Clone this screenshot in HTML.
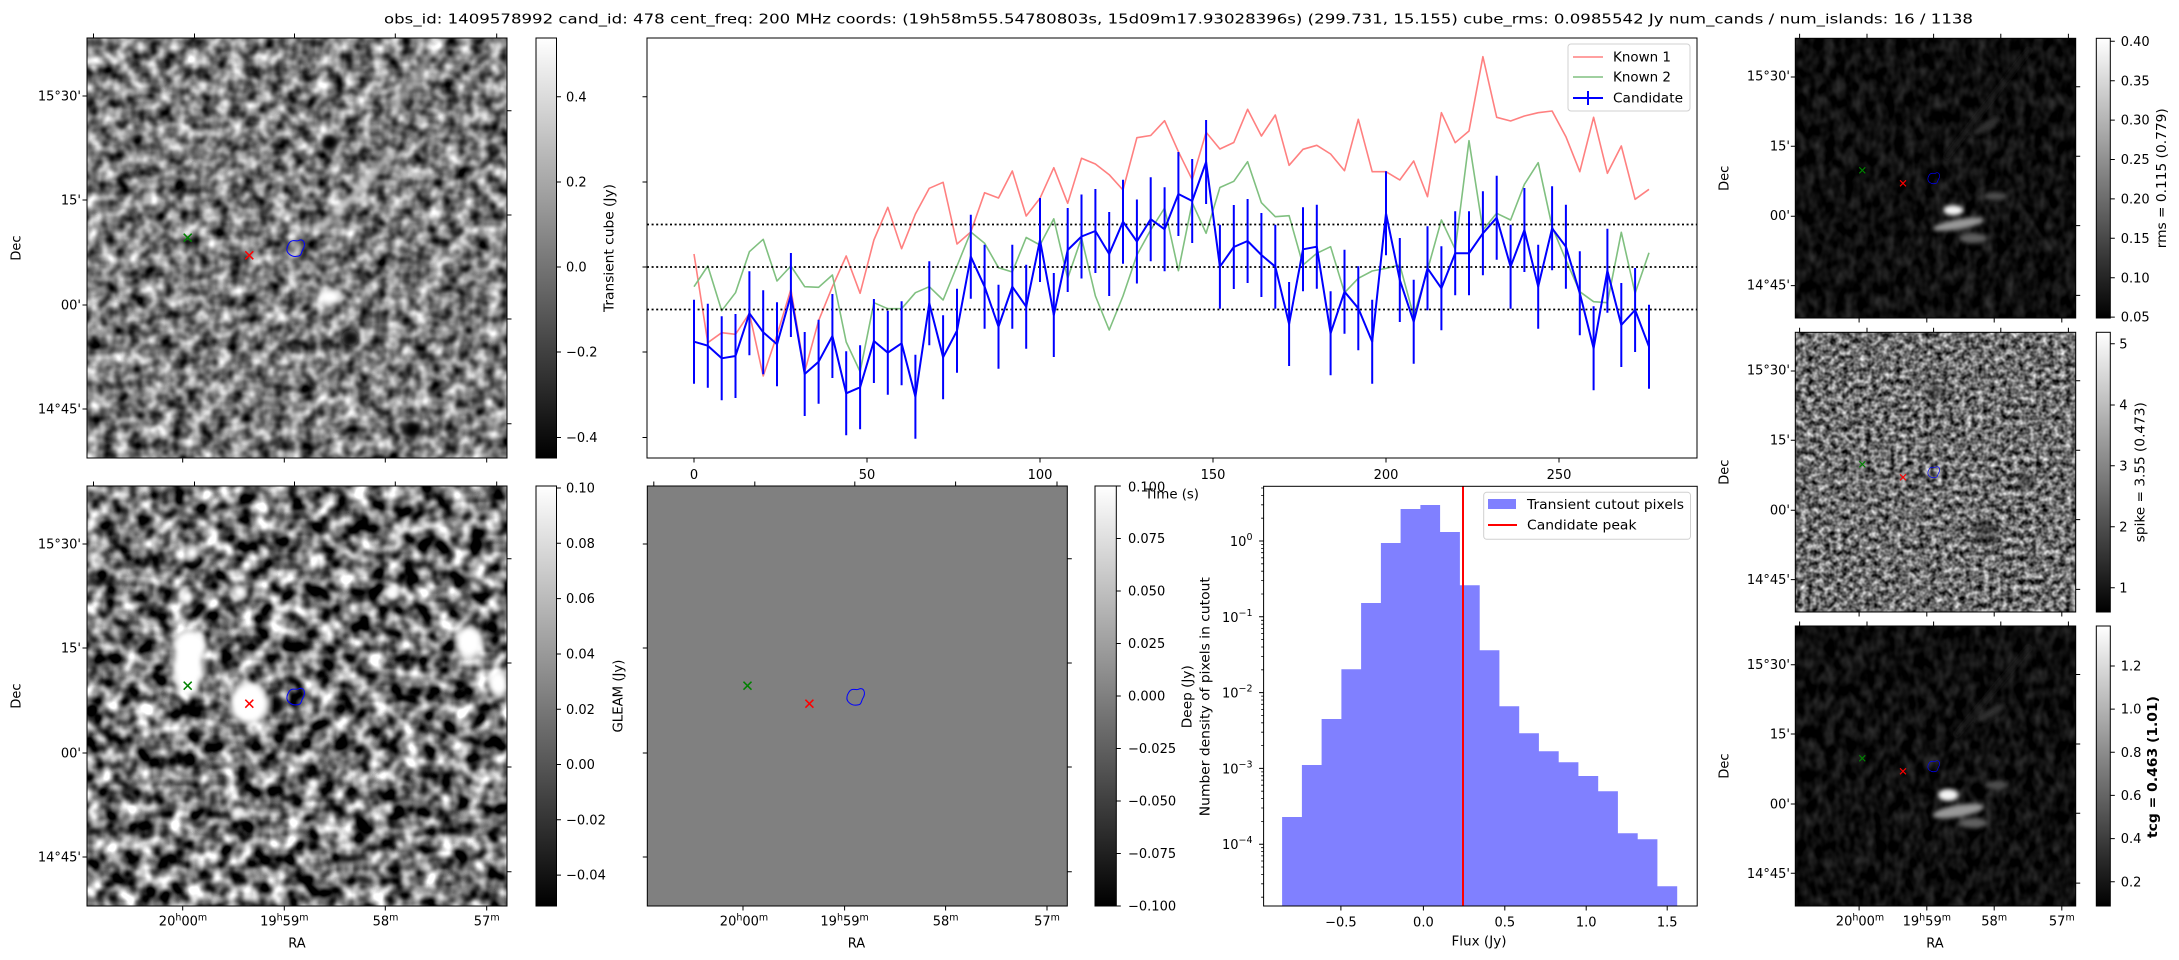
<!DOCTYPE html>
<html><head><meta charset="utf-8"><style>
body{margin:0;background:#fff}
svg{display:block}
text{font-family:"DejaVu Sans","Liberation Sans",sans-serif;font-size:13px;fill:#000}
</style></head><body>
<svg xmlns="http://www.w3.org/2000/svg" width="2179" height="960" viewBox="0 0 2179 960">
<defs>
<linearGradient id="cg" x1="0" y1="0" x2="0" y2="1"><stop offset="0" stop-color="#fff"/><stop offset="1" stop-color="#000"/></linearGradient>
<filter id="nTL" x="0" y="0" width="100%" height="100%" color-interpolation-filters="sRGB"><feTurbulence type="fractalNoise" baseFrequency="0.07" numOctaves="2" seed="2"/><feColorMatrix type="matrix" values="1.5 0 0 0 -0.27 1.5 0 0 0 -0.27 1.5 0 0 0 -0.27 0 0 0 0 1"/></filter>
<filter id="nBL" x="0" y="0" width="100%" height="100%" color-interpolation-filters="sRGB"><feTurbulence type="fractalNoise" baseFrequency="0.06" numOctaves="2" seed="7"/><feColorMatrix type="matrix" values="2.2 0 0 0 -0.66 2.2 0 0 0 -0.66 2.2 0 0 0 -0.66 0 0 0 0 1"/></filter>
<filter id="nR1" x="0" y="0" width="100%" height="100%" color-interpolation-filters="sRGB"><feTurbulence type="fractalNoise" baseFrequency="0.1 0.07" numOctaves="2" seed="4"/><feColorMatrix type="matrix" values="0.35 0 0 0 -0.12 0.35 0 0 0 -0.12 0.35 0 0 0 -0.12 0 0 0 0 1"/></filter>
<filter id="nR3" x="0" y="0" width="100%" height="100%" color-interpolation-filters="sRGB"><feTurbulence type="fractalNoise" baseFrequency="0.1 0.07" numOctaves="2" seed="9"/><feColorMatrix type="matrix" values="0.35 0 0 0 -0.12 0.35 0 0 0 -0.12 0.35 0 0 0 -0.12 0 0 0 0 1"/></filter>
<filter id="nR2" x="0" y="0" width="100%" height="100%" color-interpolation-filters="sRGB"><feTurbulence type="fractalNoise" baseFrequency="0.17" numOctaves="2" seed="11"/><feColorMatrix type="matrix" values="1.3 0 0 0 -0.22 1.3 0 0 0 -0.22 1.3 0 0 0 -0.22 0 0 0 0 1"/></filter>
<filter id="bl" x="-50%" y="-50%" width="200%" height="200%"><feGaussianBlur stdDeviation="3"/></filter>
<filter id="bl2" x="-50%" y="-50%" width="200%" height="200%"><feGaussianBlur stdDeviation="2"/></filter>
<path id="ct" d="M-6,-5 C-3,-10 2,-6 4,-8 C9,-10 11,-4 8,1 C6,4 7,8 2,8 C-3,9 -9,5 -8,0 C-8,-2 -7,-3 -6,-5Z" fill="none" stroke="#0000ff" stroke-width="1"/>
<path id="xg" d="M-4,-4L4,4M-4,4L4,-4" stroke="#008000" stroke-width="1.5" fill="none"/>
<path id="xr" d="M-4,-4L4,4M-4,4L4,-4" stroke="#ff0000" stroke-width="1.5" fill="none"/>
</defs>

<!-- Title -->
<text x="384" y="23.5" font-size="15" textLength="1589" lengthAdjust="spacingAndGlyphs">obs_id: 1409578992 cand_id: 478 cent_freq: 200 MHz coords: (19h58m55.54780803s, 15d09m17.93028396s) (299.731, 15.155) cube_rms: 0.0985542 Jy num_cands / num_islands: 16 / 1138</text>

<!-- ===== Top-left image ===== -->
<svg x="87" y="38" width="420" height="420">
<rect width="420" height="420" filter="url(#nTL)"/>
<g filter="url(#bl)">
<ellipse cx="243" cy="259" rx="11" ry="8" fill="#fff"/>
<path d="M306,112 L263,162 L233,189" stroke="#d8d8d8" stroke-width="8" fill="none" opacity="0.7"/>
<path d="M346,12 L306,72" stroke="#cfcfcf" stroke-width="7" fill="none" opacity="0.6"/>
<circle cx="243" cy="105" r="8" fill="#000"/>
<circle cx="263" cy="300" r="8" fill="#111"/>
<circle cx="325" cy="392" r="8" fill="#000"/>
</g>
</svg>
<rect x="87" y="38" width="420" height="420" fill="none" stroke="#000" stroke-width="1"/>
<use href="#xg" x="187.7" y="237.7"/><use href="#xr" x="249.3" y="255.3"/><use href="#ct" x="295" y="248.3"/>
<path d="M93.5,38v-4.5M194.5,38v-4.5M294.5,38v-4.5M395.3,38v-4.5M496.7,38v-4.5M182.7,458v4.5M284.3,458v4.5M385.3,458v4.5M486.7,458v4.5M87,96h-4.5M87,200h-4.5M87,305h-4.5M87,409h-4.5M507,110.7h4.5M507,215h4.5M507,319h4.5M507,423.7h4.5" stroke="#000" stroke-width="1"/>
<g text-anchor="end">
<text x="81" y="100.6">15°30'</text><text x="81" y="204.6">15'</text><text x="81" y="309.6">00'</text><text x="81" y="413.6">14°45'</text>
</g>
<text transform="translate(20.5,248) rotate(-90)" text-anchor="middle">Dec</text>
<!-- colorbar TL -->
<rect x="536" y="38" width="20.5" height="420" fill="url(#cg)" stroke="#000" stroke-width="1"/>
<path d="M556.5,96.7h4.5M556.5,182h4.5M556.5,267h4.5M556.5,352h4.5M556.5,437.5h4.5" stroke="#000"/>
<text x="566" y="101.3">0.4</text><text x="566" y="186.6">0.2</text><text x="566" y="271.6">0.0</text><text x="566" y="356.6">−0.2</text><text x="566" y="442.1">−0.4</text>
<text transform="translate(613.5,248) rotate(-90)" text-anchor="middle" textLength="128" lengthAdjust="spacingAndGlyphs">Transient cube (Jy)</text>

<!-- ===== Time series ===== -->
<rect x="647" y="38" width="1050" height="420" fill="#fff" stroke="#000" stroke-width="1"/>
<polyline fill="none" stroke="#ff8080" stroke-width="1.6" stroke-linejoin="round" points="694,254 707.8,342.7 721.7,332.7 735.5,334.3 749.4,313.3 763.2,376 777,335 790.9,289.3 804.7,371.7 818.6,320.7 832.4,286.7 846.2,256 860.1,293.3 873.9,240 887.8,207.3 901.6,248.7 915.4,214 929.3,188.3 943.1,182.3 957,244 970.8,232 984.6,192.7 998.5,198 1012.3,171 1026.2,216 1040,198.3 1053.8,167.7 1067.7,203.3 1081.5,158.3 1095.4,164 1109.2,174.7 1123,190 1136.9,137.7 1150.7,135.5 1164.6,120.7 1178.4,151.7 1192.2,179.7 1206.1,132.3 1219.9,149 1233.8,142.5 1247.6,109.3 1261.4,136 1275.3,115 1289.1,165.3 1303,149.3 1316.8,145.3 1330.6,154 1344.5,170.7 1358.3,119.3 1372.2,171.7 1386,171.7 1399.8,180 1413.7,161 1427.5,196.7 1441.4,112.7 1455.2,142.7 1469,131 1482.9,56.7 1496.7,117.3 1510.6,121 1524.4,116 1538.2,112.7 1552.1,111 1565.9,136.7 1579.8,171.7 1593.6,117.3 1607.4,173.3 1621.3,146 1635.1,199.3 1649,189.3"/>
<polyline fill="none" stroke="#80c080" stroke-width="1.6" stroke-linejoin="round" points="694,286.7 707.8,266 721.7,310.7 735.5,292.7 749.4,251.7 763.2,239.3 777,281 790.9,266 804.7,286.7 818.6,287.3 832.4,275 846.2,342 860.1,371.7 873.9,302.7 887.8,308.7 901.6,308.7 915.4,292.7 929.3,286.7 943.1,300 957,266 970.8,232 984.6,243.3 998.5,267.7 1012.3,272 1026.2,237.5 1040,245 1053.8,218.8 1067.7,278.3 1081.5,237.8 1095.4,296 1109.2,330 1123,296 1136.9,255 1150.7,230 1164.6,208 1178.4,270.7 1192.2,202.7 1206.1,233.3 1219.9,187.5 1233.8,181.3 1247.6,161.7 1261.4,202.7 1275.3,216.7 1289.1,215.7 1303,265 1316.8,253.3 1330.6,246.7 1344.5,292.7 1358.3,278.3 1372.2,271 1386,268.3 1399.8,265 1413.7,316 1427.5,270 1441.4,220 1455.2,249.3 1469,140.7 1482.9,230 1496.7,213.3 1510.6,220 1524.4,184.3 1538.2,162.7 1552.1,226.7 1565.9,260 1579.8,291.7 1593.6,301.7 1607.4,302.7 1621.3,232.3 1635.1,293.3 1649,252.7"/>
<path d="M647,224.5H1697M647,267H1697M647,309.5H1697" stroke="#000" stroke-width="1.8" stroke-dasharray="2,2.6"/>
<path stroke="#0000ff" stroke-width="2" d="M694,299.7V383.7M707.8,303.7V387.7M721.7,316.3V400.3M735.5,314V398M749.4,271.3V355.3M763.2,290.3V374.3M777,302.3V386.3M790.9,253V337M804.7,332V416M818.6,319.7V403.7M832.4,294V378M846.2,351.3V435.3M860.1,345.3V429.3M873.9,299V383M887.8,310.7V394.7M901.6,301.3V385.3M915.4,354.7V438.7M929.3,261.3V345.3M943.1,315.3V399.3M957,288.7V372.7M970.8,214.7V298.7M984.6,244.7V328.7M998.5,284.7V368.7M1012.3,244.7V328.7M1026.2,264.7V348.7M1040,198V282M1053.8,273V357M1067.7,208V292M1081.5,194.5V278.5M1095.4,189V273M1109.2,212V296M1123,179.7V263.7M1136.9,199.5V283.5M1150.7,177.2V261.2M1164.6,187.3V271.3M1178.4,152V236M1192.2,159V243M1206.1,120V204M1219.9,224.7V308.7M1233.8,205V289M1247.6,199V283M1261.4,213V297M1275.3,224.7V308.7M1289.1,282V366M1303,207.3V291.3M1316.8,204.7V288.7M1330.6,291.3V375.3M1344.5,249.7V333.7M1358.3,266.3V350.3M1372.2,299.7V383.7M1386,171.3V255.3M1399.8,238V322M1413.7,279.7V363.7M1427.5,226.3V310.3M1441.4,246.3V330.3M1455.2,211.3V295.3M1469,211.3V295.3M1482.9,191.3V275.3M1496.7,175.7V259.7M1510.6,224.7V308.7M1524.4,188V272M1538.2,244.7V328.7M1552.1,186.3V270.3M1565.9,204.7V288.7M1579.8,251.3V335.3M1593.6,306.3V390.3M1607.4,228.7V312.7M1621.3,283V367M1635.1,268V352M1649,304.7V388.7"/>
<polyline fill="none" stroke="#0000ff" stroke-width="2" stroke-linejoin="round" points="694,341.7 707.8,345.7 721.7,358.3 735.5,356 749.4,313.3 763.2,332.3 777,344.3 790.9,295 804.7,374 818.6,361.7 832.4,336 846.2,393.3 860.1,387.3 873.9,341 887.8,352.7 901.6,343.3 915.4,396.7 929.3,303.3 943.1,357.3 957,330.7 970.8,256.7 984.6,286.7 998.5,326.7 1012.3,286.7 1026.2,306.7 1040,240 1053.8,315 1067.7,250 1081.5,236.5 1095.4,231 1109.2,254 1123,221.7 1136.9,241.5 1150.7,219.2 1164.6,229.3 1178.4,194 1192.2,201 1206.1,162 1219.9,266.7 1233.8,247 1247.6,241 1261.4,255 1275.3,266.7 1289.1,324 1303,249.3 1316.8,246.7 1330.6,333.3 1344.5,291.7 1358.3,308.3 1372.2,341.7 1386,213.3 1399.8,280 1413.7,321.7 1427.5,268.3 1441.4,288.3 1455.2,253.3 1469,253.3 1482.9,233.3 1496.7,217.7 1510.6,266.7 1524.4,230 1538.2,286.7 1552.1,228.3 1565.9,246.7 1579.8,293.3 1593.6,348.3 1607.4,270.7 1621.3,325 1635.1,310 1649,346.7"/>
<path d="M647,96.7h-4.5M647,182h-4.5M647,267h-4.5M647,352h-4.5M647,437.5h-4.5M694,458v4.5M867,458v4.5M1040,458v4.5M1213,458v4.5M1386,458v4.5M1559,458v4.5" stroke="#000"/>
<g text-anchor="middle"><text x="694" y="479">0</text><text x="867" y="479">50</text><text x="1040" y="479">100</text><text x="1213" y="479">150</text><text x="1386" y="479">200</text><text x="1559" y="479">250</text></g>
<text x="1172" y="498.5" text-anchor="middle" textLength="54" lengthAdjust="spacingAndGlyphs">Time (s)</text>
<!-- legend -->
<rect x="1568" y="44" width="122" height="67" rx="3" fill="#fff" fill-opacity="0.8" stroke="#d0d0d0" stroke-width="1"/>
<path d="M1573,57H1603" stroke="#ff8080" stroke-width="1.6"/>
<path d="M1573,77H1603" stroke="#80c080" stroke-width="1.6"/>
<path d="M1573,98H1603M1588,91V105" stroke="#0000ff" stroke-width="2"/>
<text x="1613" y="61.5" textLength="58" lengthAdjust="spacingAndGlyphs">Known 1</text>
<text x="1613" y="81.5" textLength="58" lengthAdjust="spacingAndGlyphs">Known 2</text>
<text x="1613" y="102.5" textLength="70" lengthAdjust="spacingAndGlyphs">Candidate</text>

<!-- ===== Bottom-left image ===== -->
<svg x="87" y="486" width="420" height="420">
<rect width="420" height="420" filter="url(#nBL)"/>
<g filter="url(#bl)">
<circle cx="188" cy="219" r="10" fill="#000"/>
<ellipse cx="101" cy="180" rx="15" ry="30" fill="#fff"/>
<ellipse cx="103" cy="160" rx="17" ry="16" fill="#fff"/>
<ellipse cx="162" cy="217" rx="19" ry="21" fill="#fff"/>
<ellipse cx="382" cy="156" rx="13" ry="16" fill="#fff"/>
<ellipse cx="411" cy="197" rx="10" ry="13" fill="#fff"/>
<circle cx="105" cy="67" r="7" fill="#fff"/>
<circle cx="100" cy="111" r="7" fill="#fff"/>
<circle cx="153" cy="106" r="7" fill="#fff"/>
<circle cx="305" cy="107" r="7" fill="#fff"/>
<circle cx="150" cy="327" r="6" fill="#fff"/>
</g>
</svg>
<rect x="87" y="486" width="420" height="420" fill="none" stroke="#000" stroke-width="1"/>
<use href="#xg" x="187.7" y="685.7"/><use href="#xr" x="249.3" y="703.7"/><use href="#ct" x="295" y="696.7"/>
<path d="M93.5,486v-4.5M194.5,486v-4.5M294.5,486v-4.5M395.3,486v-4.5M496.7,486v-4.5M182.7,906v4.5M284.3,906v4.5M385.3,906v4.5M486.7,906v4.5M87,544h-4.5M87,648h-4.5M87,753h-4.5M87,857h-4.5M507,558.7h4.5M507,663h4.5M507,767h4.5M507,871.7h4.5" stroke="#000"/>
<g text-anchor="end">
<text x="81" y="548.6">15°30'</text><text x="81" y="652.6">15'</text><text x="81" y="757.6">00'</text><text x="81" y="861.6">14°45'</text>
</g>
<text transform="translate(20.5,696) rotate(-90)" text-anchor="middle">Dec</text>
<g text-anchor="middle">
<text x="183" y="925.4">20<tspan dy="-5" font-size="9.5">h</tspan><tspan dy="5">00</tspan><tspan dy="-5" font-size="9.5">m</tspan></text>
<text x="284.3" y="925.4">19<tspan dy="-5" font-size="9.5">h</tspan><tspan dy="5">59</tspan><tspan dy="-5" font-size="9.5">m</tspan></text>
<text x="385.5" y="925.4">58<tspan dy="-5" font-size="9.5">m</tspan></text>
<text x="486.7" y="925.4">57<tspan dy="-5" font-size="9.5">m</tspan></text>
</g>
<text x="297" y="947.7" text-anchor="middle">RA</text>
<!-- colorbar BL -->
<rect x="536" y="486" width="20.5" height="420" fill="url(#cg)" stroke="#000" stroke-width="1"/>
<path d="M556.5,488h4.5M556.5,543.3h4.5M556.5,598.6h4.5M556.5,654h4.5M556.5,709.2h4.5M556.5,764.5h4.5M556.5,819.8h4.5M556.5,875.1h4.5" stroke="#000"/>
<text x="566" y="492.6">0.10</text><text x="566" y="547.9">0.08</text><text x="566" y="603.2">0.06</text><text x="566" y="658.6">0.04</text><text x="566" y="713.8">0.02</text><text x="566" y="769.1">0.00</text><text x="566" y="824.4">−0.02</text><text x="566" y="879.7">−0.04</text>
<text transform="translate(622.5,696) rotate(-90)" text-anchor="middle" textLength="73" lengthAdjust="spacingAndGlyphs">GLEAM (Jy)</text>

<!-- ===== GLEAM panel ===== -->
<rect x="647.3" y="486" width="420" height="420" fill="#808080" stroke="#000" stroke-width="1"/>
<use href="#xg" x="747.5" y="685.7"/><use href="#xr" x="809.4" y="703.7"/><use href="#ct" x="855" y="697"/>
<path d="M653.8,486v-4.5M754.8,486v-4.5M854.8,486v-4.5M955.6,486v-4.5M1057,486v-4.5M743,906v4.5M844.6,906v4.5M945.6,906v4.5M1047,906v4.5M647.3,544h-4.5M647.3,648h-4.5M647.3,753h-4.5M647.3,857h-4.5M1067.3,558.7h4.5M1067.3,663h4.5M1067.3,767h4.5M1067.3,871.7h4.5" stroke="#000"/>
<g text-anchor="middle">
<text x="744" y="925.4">20<tspan dy="-5" font-size="9.5">h</tspan><tspan dy="5">00</tspan><tspan dy="-5" font-size="9.5">m</tspan></text>
<text x="844.6" y="925.4">19<tspan dy="-5" font-size="9.5">h</tspan><tspan dy="5">59</tspan><tspan dy="-5" font-size="9.5">m</tspan></text>
<text x="945.6" y="925.4">58<tspan dy="-5" font-size="9.5">m</tspan></text>
<text x="1047" y="925.4">57<tspan dy="-5" font-size="9.5">m</tspan></text>
</g>
<text x="856.5" y="947.7" text-anchor="middle">RA</text>
<!-- colorbar GLEAM -->
<rect x="1095" y="486" width="21.3" height="420" fill="url(#cg)" stroke="#000" stroke-width="1"/>
<path d="M1116.3,486h4.5M1116.3,538.5h4.5M1116.3,591h4.5M1116.3,643.5h4.5M1116.3,696h4.5M1116.3,748.5h4.5M1116.3,801h4.5M1116.3,853.5h4.5M1116.3,906h4.5" stroke="#000"/>
<text x="1128" y="491.6">0.100</text><text x="1128" y="543.1">0.075</text><text x="1128" y="595.6">0.050</text><text x="1128" y="648.1">0.025</text><text x="1128" y="700.6">0.000</text><text x="1128" y="753.1">−0.025</text><text x="1128" y="805.6">−0.050</text><text x="1128" y="858.1">−0.075</text><text x="1128" y="910.6">−0.100</text>
<text transform="translate(1191.5,696.7) rotate(-90)" text-anchor="middle" textLength="63" lengthAdjust="spacingAndGlyphs">Deep (Jy)</text>

<!-- ===== Histogram ===== -->
<rect x="1263.6" y="486.3" width="433.6" height="419.7" fill="#fff"/>
<path d="M1282.1,906V817H1301.9V765H1321.6V719H1341.4V669.3H1361.1V603H1380.9V543H1400.6V509H1420.4V505H1440.1V532H1459.9V585.3H1479.7V650.3H1499.4V706.3H1519.2V733.3H1538.9V751.3H1558.7V762.3H1578.4V776H1598.2V791.3H1617.9V833.3H1637.7V839.3H1657.4V886.3H1677.2V906Z" fill="#8080ff"/>
<path d="M1463,486.3V906" stroke="#ff0000" stroke-width="2"/>
<rect x="1263.6" y="486.3" width="433.6" height="419.7" fill="none" stroke="#000" stroke-width="1"/>
<path d="M1263.6,541h-4.5M1263.6,616.8h-4.5M1263.6,692.6h-4.5M1263.6,768.4h-4.5M1263.6,844.2h-4.5M1340.9,906v4.5M1423.4,906v4.5M1504.8,906v4.5M1586.2,906v4.5M1667.2,906v4.5" stroke="#000"/>
<path d="M1263.6,518.2h-2.5M1263.6,504.8h-2.5M1263.6,495.4h-2.5M1263.6,488h-2.5M1263.6,594h-2.5M1263.6,580.6h-2.5M1263.6,571.2h-2.5M1263.6,563.8h-2.5M1263.6,557.8h-2.5M1263.6,552.7h-2.5M1263.6,548.4h-2.5M1263.6,544.5h-2.5M1263.6,669.8h-2.5M1263.6,656.4h-2.5M1263.6,647h-2.5M1263.6,639.6h-2.5M1263.6,633.6h-2.5M1263.6,628.5h-2.5M1263.6,624.2h-2.5M1263.6,620.3h-2.5M1263.6,745.6h-2.5M1263.6,732.2h-2.5M1263.6,722.8h-2.5M1263.6,715.4h-2.5M1263.6,709.4h-2.5M1263.6,704.3h-2.5M1263.6,700h-2.5M1263.6,696.1h-2.5M1263.6,821.4h-2.5M1263.6,808h-2.5M1263.6,798.6h-2.5M1263.6,791.2h-2.5M1263.6,785.2h-2.5M1263.6,780.1h-2.5M1263.6,775.8h-2.5M1263.6,771.9h-2.5M1263.6,897.2h-2.5M1263.6,883.8h-2.5M1263.6,874.4h-2.5M1263.6,867h-2.5M1263.6,861h-2.5M1263.6,855.9h-2.5M1263.6,851.6h-2.5M1263.6,847.7h-2.5" stroke="#000" stroke-width="0.8"/>
<g text-anchor="end">
<text x="1252.5" y="546">10<tspan dy="-6" font-size="9.5">0</tspan></text>
<text x="1252.5" y="621.8">10<tspan dy="-6" font-size="9.5">−1</tspan></text>
<text x="1252.5" y="697.6">10<tspan dy="-6" font-size="9.5">−2</tspan></text>
<text x="1252.5" y="773.4">10<tspan dy="-6" font-size="9.5">−3</tspan></text>
<text x="1252.5" y="849.2">10<tspan dy="-6" font-size="9.5">−4</tspan></text>
</g>
<g text-anchor="middle"><text x="1340.9" y="926.4">−0.5</text><text x="1423.4" y="926.4">0.0</text><text x="1504.8" y="926.4">0.5</text><text x="1586.2" y="926.4">1.0</text><text x="1667.2" y="926.4">1.5</text></g>
<text x="1479" y="945.5" text-anchor="middle" textLength="55" lengthAdjust="spacingAndGlyphs">Flux (Jy)</text>
<text transform="translate(1209.5,696.7) rotate(-90)" text-anchor="middle" textLength="239" lengthAdjust="spacingAndGlyphs">Number density of pixels in cutout</text>
<rect x="1483.7" y="492.3" width="206.8" height="47" rx="3" fill="#fff" fill-opacity="0.8" stroke="#d0d0d0" stroke-width="1"/>
<rect x="1488" y="499" width="28" height="10" fill="#8080ff"/>
<path d="M1488,525H1517" stroke="#ff0000" stroke-width="2"/>
<text x="1527" y="509" textLength="157" lengthAdjust="spacingAndGlyphs">Transient cutout pixels</text>
<text x="1527" y="529.5" textLength="109.5" lengthAdjust="spacingAndGlyphs">Candidate peak</text>

<!-- ===== Right column panel 1 (rms) ===== -->
<svg x="1795.3" y="38.3" width="280.4" height="279.7">
<rect width="281" height="280" filter="url(#nR1)"/>
<g filter="url(#bl2)">
<path d="M235,10 L150,120" stroke="#222" stroke-width="6" opacity="0.6"/>
<ellipse cx="191" cy="88" rx="16" ry="4" fill="#333" transform="rotate(-30 191 88)"/>
<ellipse cx="163" cy="186" rx="26" ry="5" fill="#999" transform="rotate(-10 163 186)"/>
<ellipse cx="200" cy="158" rx="12" ry="4" fill="#505050"/>
<ellipse cx="178" cy="200" rx="14" ry="5" fill="#606060"/>
<ellipse cx="158" cy="172" rx="10" ry="5" fill="#f4f4f4"/>
</g>
</svg>
<rect x="1795.3" y="38.3" width="280.4" height="279.7" fill="none" stroke="#000"/>
<use href="#xg" transform="translate(1862.3,170.3) scale(0.75)"/><use href="#xr" transform="translate(1903,183.3) scale(0.75)"/><use href="#ct" transform="translate(1933.3,178.3) scale(0.667)"/>
<path d="M1799.6,38.3v-4.5M1867,38.3v-4.5M1933.6,38.3v-4.5M2000.8,38.3v-4.5M2068.4,38.3v-4.5M1859.1,318v4.5M1926.8,318v4.5M1994.2,318v4.5M2061.8,318v4.5M1795.3,77h-4.5M1795.3,146.3h-4.5M1795.3,216.3h-4.5M1795.3,285.6h-4.5M2075.7,86.8h4.5M2075.7,156.3h4.5M2075.7,225.6h4.5M2075.7,295.4h4.5" stroke="#000"/>
<g text-anchor="end"><text x="1790" y="80.6">15°30'</text><text x="1790" y="150.6">15'</text><text x="1790" y="219.9">00'</text><text x="1790" y="289.6">14°45'</text></g>
<text transform="translate(1728.5,178.3) rotate(-90)" text-anchor="middle">Dec</text>
<rect x="2096.3" y="38.3" width="14" height="279.7" fill="url(#cg)" stroke="#000"/>
<path d="M2110.3,41.3h4.5M2110.3,80.7h4.5M2110.3,120.1h4.5M2110.3,159.5h4.5M2110.3,198.9h4.5M2110.3,238.3h4.5M2110.3,277.7h4.5M2110.3,317.1h4.5" stroke="#000"/>
<text x="2120.7" y="45.9">0.40</text><text x="2120.7" y="85.3">0.35</text><text x="2120.7" y="124.7">0.30</text><text x="2120.7" y="164.1">0.25</text><text x="2120.7" y="203.5">0.20</text><text x="2120.7" y="242.9">0.15</text><text x="2120.7" y="282.3">0.10</text><text x="2120.7" y="321.7">0.05</text>
<text transform="translate(2166,178.3) rotate(-90)" text-anchor="middle" textLength="140" lengthAdjust="spacingAndGlyphs">rms = 0.115 (0.779)</text>

<!-- ===== Right column panel 2 (spike) ===== -->
<svg x="1795.3" y="332.3" width="280.4" height="279.7">
<rect width="281" height="280" filter="url(#nR2)"/>
<g filter="url(#bl2)" opacity="0.45">
<circle cx="190" cy="200" r="12" fill="#111"/>
<circle cx="140" cy="60" r="10" fill="#222"/>
<circle cx="230" cy="150" r="9" fill="#222"/>
</g>
</svg>
<rect x="1795.3" y="332.3" width="280.4" height="279.7" fill="none" stroke="#000"/>
<use href="#xg" transform="translate(1862.3,464.3) scale(0.75)"/><use href="#xr" transform="translate(1903,477.3) scale(0.75)"/><use href="#ct" transform="translate(1933.3,472.3) scale(0.667)"/>
<path d="M1799.6,332.3v-4.5M1867,332.3v-4.5M1933.6,332.3v-4.5M2000.8,332.3v-4.5M2068.4,332.3v-4.5M1859.1,612v4.5M1926.8,612v4.5M1994.2,612v4.5M2061.8,612v4.5M1795.3,371h-4.5M1795.3,440.3h-4.5M1795.3,510.3h-4.5M1795.3,579.6h-4.5M2075.7,380.8h4.5M2075.7,450.3h4.5M2075.7,519.6h4.5M2075.7,589.4h4.5" stroke="#000"/>
<g text-anchor="end"><text x="1790" y="374.6">15°30'</text><text x="1790" y="444.6">15'</text><text x="1790" y="514.6">00'</text><text x="1790" y="583.9">14°45'</text></g>
<text transform="translate(1728.5,472.2) rotate(-90)" text-anchor="middle">Dec</text>
<rect x="2096.3" y="332.3" width="14" height="279.7" fill="url(#cg)" stroke="#000"/>
<path d="M2110.3,343.7h4.5M2110.3,405h4.5M2110.3,465.7h4.5M2110.3,526.7h4.5M2110.3,587.7h4.5" stroke="#000"/>
<text x="2119.3" y="348.3">5</text><text x="2119.3" y="409.6">4</text><text x="2119.3" y="470.3">3</text><text x="2119.3" y="531.3">2</text><text x="2119.3" y="592.3">1</text>
<text transform="translate(2144.5,472.2) rotate(-90)" text-anchor="middle" textLength="140" lengthAdjust="spacingAndGlyphs">spike = 3.55 (0.473)</text>

<!-- ===== Right column panel 3 (tcg) ===== -->
<svg x="1795.3" y="626" width="280.4" height="280">
<rect width="281" height="280" filter="url(#nR3)"/>
<g filter="url(#bl2)">
<path d="M235,20 L160,110" stroke="#222" stroke-width="6" opacity="0.6"/>
<ellipse cx="195" cy="87" rx="16" ry="4" fill="#333" transform="rotate(-30 195 87)"/>
<ellipse cx="163" cy="185" rx="26" ry="6" fill="#999" transform="rotate(-10 163 185)"/>
<ellipse cx="201" cy="159" rx="12" ry="4" fill="#505050"/>
<ellipse cx="178" cy="197" rx="14" ry="5" fill="#606060"/>
<ellipse cx="153" cy="169" rx="10" ry="6" fill="#f4f4f4"/>
</g>
</svg>
<rect x="1795.3" y="626" width="280.4" height="280" fill="none" stroke="#000"/>
<use href="#xg" transform="translate(1862.3,758.3) scale(0.75)"/><use href="#xr" transform="translate(1903,771.3) scale(0.75)"/><use href="#ct" transform="translate(1933.3,766.3) scale(0.667)"/>
<path d="M1799.6,626v-4.5M1867,626v-4.5M1933.6,626v-4.5M2000.8,626v-4.5M2068.4,626v-4.5M1859.1,906v4.5M1926.8,906v4.5M1994.2,906v4.5M2061.8,906v4.5M1795.3,664.7h-4.5M1795.3,734h-4.5M1795.3,804h-4.5M1795.3,873.3h-4.5M2075.7,674.5h4.5M2075.7,744h4.5M2075.7,813.3h4.5M2075.7,883.1h4.5" stroke="#000"/>
<g text-anchor="end"><text x="1790" y="668.9">15°30'</text><text x="1790" y="738.6">15'</text><text x="1790" y="808.6">00'</text><text x="1790" y="877.9">14°45'</text></g>
<text transform="translate(1728.5,766) rotate(-90)" text-anchor="middle">Dec</text>
<g text-anchor="middle">
<text x="1860" y="925.4">20<tspan dy="-5" font-size="9.5">h</tspan><tspan dy="5">00</tspan><tspan dy="-5" font-size="9.5">m</tspan></text>
<text x="1926.8" y="925.4">19<tspan dy="-5" font-size="9.5">h</tspan><tspan dy="5">59</tspan><tspan dy="-5" font-size="9.5">m</tspan></text>
<text x="1994.2" y="925.4">58<tspan dy="-5" font-size="9.5">m</tspan></text>
<text x="2061.8" y="925.4">57<tspan dy="-5" font-size="9.5">m</tspan></text>
</g>
<text x="1935" y="947.7" text-anchor="middle">RA</text>
<rect x="2096.3" y="626" width="14" height="280" fill="url(#cg)" stroke="#000"/>
<path d="M2110.3,666h4.5M2110.3,709.1h4.5M2110.3,752.3h4.5M2110.3,795.4h4.5M2110.3,838.6h4.5M2110.3,881.7h4.5" stroke="#000"/>
<text x="2120.7" y="670.6">1.2</text><text x="2120.7" y="713.7">1.0</text><text x="2120.7" y="756.9">0.8</text><text x="2120.7" y="800">0.6</text><text x="2120.7" y="843.2">0.4</text><text x="2120.7" y="886.3">0.2</text>
<text transform="translate(2157,767) rotate(-90)" text-anchor="middle" font-weight="bold" textLength="142" lengthAdjust="spacingAndGlyphs">tcg = 0.463 (1.01)</text>
</svg>
</body></html>
